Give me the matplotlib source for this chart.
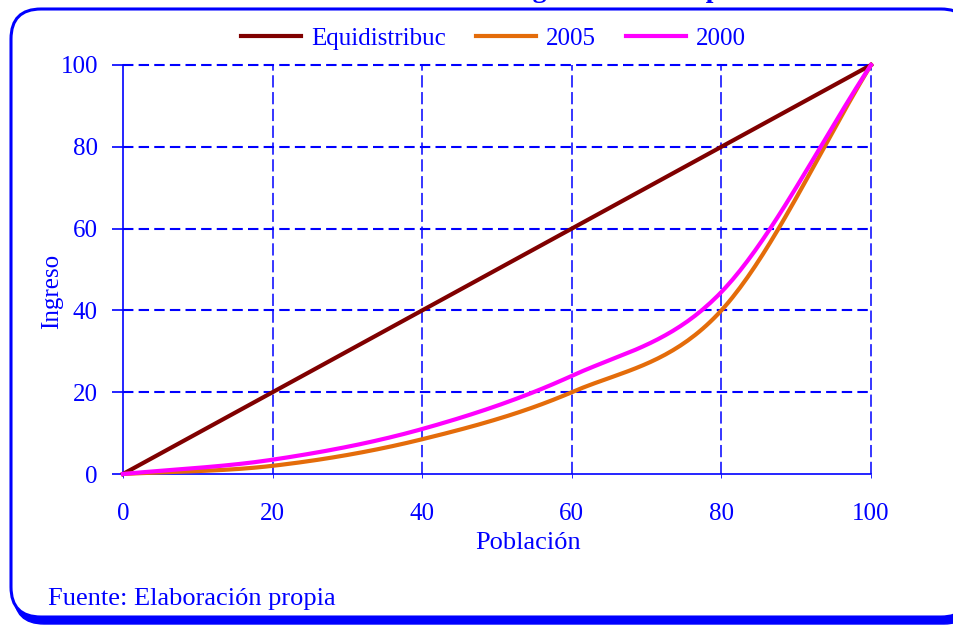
import numpy as np
import matplotlib
matplotlib.use("Agg")
import matplotlib.pyplot as plt
from matplotlib.patches import FancyBboxPatch
from matplotlib.transforms import IdentityTransform

# Quintiles of population (%) and cumulative share of income (%)
poblacion = [0, 20, 40, 60, 80, 100]
equidistribucion = [0, 20, 40, 60, 80, 100]
ingreso_2005 = [0, 2.0, 8.5, 20.0, 40.0, 100]
ingreso_2000 = [0, 3.5, 11.0, 24.0, 44.5, 100]

series_labels = ["Equidistribuc", "2005", "2000"]
ticks = [0, 20, 40, 60, 80, 100]

BLUE = "#0000FF"
SERIF = ["Liberation Serif", "DejaVu Serif"]


def smooth(xs, ys, n=40):
    """Catmull-Rom curve through the points, like a spreadsheet's smoothed line."""
    xs = np.asarray(xs, float)
    ys = np.asarray(ys, float)
    px = np.concatenate([[2 * xs[0] - xs[1]], xs, [2 * xs[-1] - xs[-2]]])
    py = np.concatenate([[2 * ys[0] - ys[1]], ys, [2 * ys[-1] - ys[-2]]])
    out_x, out_y = [], []
    t = np.linspace(0, 1, n, endpoint=False)
    for i in range(1, len(px) - 2):
        p0, p1, p2, p3 = [np.array([px[j], py[j]]) for j in range(i - 1, i + 3)]
        m1 = (p2 - p0) / 2
        m2 = (p3 - p1) / 2
        h00 = 2 * t**3 - 3 * t**2 + 1
        h10 = t**3 - 2 * t**2 + t
        h01 = -2 * t**3 + 3 * t**2
        h11 = t**3 - t**2
        pts = (np.outer(h00, p1) + np.outer(h10, m1)
               + np.outer(h01, p2) + np.outer(h11, m2))
        out_x.extend(pts[:, 0])
        out_y.extend(pts[:, 1])
    out_x.append(xs[-1])
    out_y.append(ys[-1])
    return np.array(out_x), np.array(out_y)


plt.rcParams["font.family"] = SERIF

fig = plt.figure(figsize=(9.54, 6.26), dpi=100)

# rounded frame with a blue drop shadow
shadow = FancyBboxPatch((14, 2), 960, 604, boxstyle="round,pad=0,rounding_size=30",
                        transform=IdentityTransform(), facecolor=BLUE,
                        edgecolor=BLUE, lw=1, zorder=-2)
frame = FancyBboxPatch((11, 9), 960, 608, boxstyle="round,pad=0,rounding_size=30",
                       transform=IdentityTransform(), facecolor="white",
                       edgecolor=BLUE, lw=2.2, zorder=-1)
fig.patches.extend([shadow, frame])

# title, mostly above the top edge
fig.text(0.53, 1.004, "Curva de Lorenz del ingreso total del país", color=BLUE,
         fontsize=20, fontweight="bold", ha="center", va="baseline")

ax = fig.add_axes([0.1289, 0.2428, 0.7841, 0.6534])
ax.set_facecolor("none")

ax.plot(*smooth(poblacion, equidistribucion), color="#800000", lw=3.0,
        label=series_labels[0], zorder=3, clip_on=False)
ax.plot(*smooth(poblacion, ingreso_2005), color="#E46C0A", lw=3.0,
        label=series_labels[1], zorder=4, clip_on=False)
ax.plot(*smooth(poblacion, ingreso_2000), color="#FF00FF", lw=3.0,
        label=series_labels[2], zorder=5, clip_on=False)

ax.set_xlim(0, 100)
ax.set_ylim(0, 100)
ax.set_xticks(ticks)
ax.set_yticks(ticks)

# dashed grid, including the top and right borders
for v in ticks[1:]:
    ax.axhline(v, color=BLUE, lw=1.5, ls=(0, (5, 2.5)), zorder=1, clip_on=False)
    ax.axvline(v, color=BLUE, lw=1.1, ls=(0, (8, 3)), zorder=1, clip_on=False)

for side in ["top", "right"]:
    ax.spines[side].set_visible(False)
for side in ["left", "bottom"]:
    ax.spines[side].set_color(BLUE)
    ax.spines[side].set_linewidth(1.2)

ax.tick_params(axis="y", colors=BLUE, labelsize=18, length=8, width=1.2, pad=10)
ax.tick_params(axis="x", colors=BLUE, labelsize=18, length=3, width=0.6, pad=18)

fig.text(0.055, 0.535, "Ingreso", color=BLUE, fontsize=18, rotation=90,
         ha="center", va="center")
fig.text(0.553, 0.132, "Población", color=BLUE, fontsize=19, ha="center", va="center")

leg = fig.legend(loc="center", bbox_to_anchor=(0.517, 0.938), ncol=3, frameon=False,
                 fontsize=18, handlelength=2.4, columnspacing=1.2, handletextpad=0.4)
for txt in leg.get_texts():
    txt.set_color(BLUE)

fig.text(0.05, 0.043, "Fuente: Elaboración propia", color=BLUE, fontsize=19,
         ha="left", va="center")

fig.savefig("out.png", dpi=100)
